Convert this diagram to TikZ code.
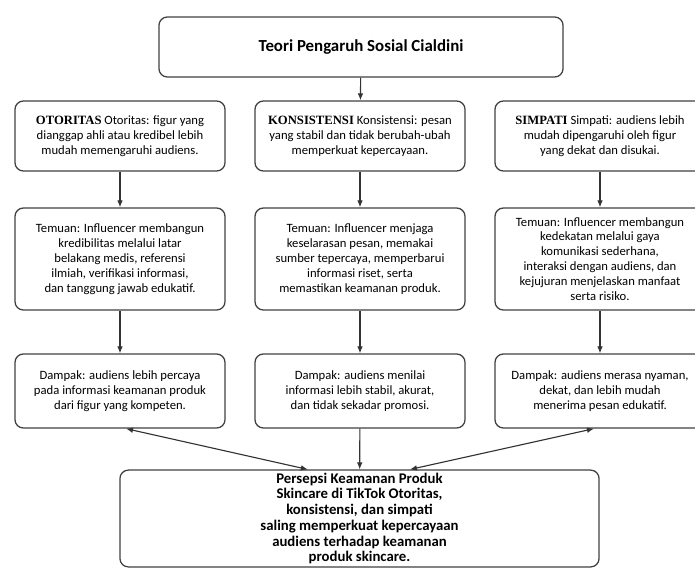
\documentclass[tikz,border=0pt]{standalone}
\usepackage{fontspec}
\setmainfont{Carlito}
\newfontfamily\capsfont{Liberation Serif}
\usetikzlibrary{positioning,arrows.meta}

\tikzset{
	card/.style={draw=black!75, line width=0.9pt, rounded corners=6pt, align=center, inner sep=1pt,
		minimum width=5.25cm, font=\fontsize{9}{10.6}\selectfont},
	headcard/.style={card, minimum width=10.1cm, minimum height=1.5cm, font=\fontsize{12}{14}\selectfont\bfseries},
	resultcard/.style={card, minimum width=11.975cm, minimum height=2.42cm, font=\fontsize{10.5}{11.2}\selectfont\bfseries},
	flow/.style={draw=black!80, line width=0.8pt, -{Latex[length=5pt,width=4pt]}},
	twoway/.style={flow, {Latex[length=5pt,width=4pt]}-{Latex[length=5pt,width=4pt]}}
}
\newcommand{\key}[1]{{\capsfont\bfseries #1}}

\begin{document}
\begin{tikzpicture}[x=0.025cm,y=-0.025cm]
\useasboundingbox (0,0) rectangle (695,568); % page frame

\node[headcard] (teori) at (361,47) {Teori Pengaruh Sosial Cialdini}; % title

% row 1: principles
\node[card, minimum height=1.75cm] (otoritas) at (120,136) {\key{OTORITAS} Otoritas: figur yang\\dianggap ahli atau kredibel lebih\\mudah memengaruhi audiens.};
\node[card, minimum height=1.75cm] (konsistensi) at (360,136) {\key{KONSISTENSI} Konsistensi: pesan\\yang stabil dan tidak berubah-ubah\\memperkuat kepercayaan.};
\node[card, minimum height=1.75cm] (simpati) at (600,136) {\key{SIMPATI} Simpati: audiens lebih\\mudah dipengaruhi oleh figur\\yang dekat dan disukai.};

% row 2: findings
\node[card, minimum height=2.55cm] (temuanO) at (120,259) {Temuan: Influencer membangun\\kredibilitas melalui latar\\belakang medis, referensi\\ilmiah, verifikasi informasi,\\dan tanggung jawab edukatif.};
\node[card, minimum height=2.55cm] (temuanK) at (360,259) {Temuan: Influencer menjaga\\keselarasan pesan, memakai\\sumber tepercaya, memperbarui\\informasi riset, serta\\memastikan keamanan produk.};
\node[card, minimum height=2.55cm] (temuanS) at (600,259) {Temuan: Influencer membangun\\kedekatan melalui gaya\\komunikasi sederhana,\\interaksi dengan audiens, dan\\kejujuran menjelaskan manfaat\\serta risiko.};

% row 3: impact
\node[card, minimum height=1.85cm] (dampakO) at (120,391) {Dampak: audiens lebih percaya\\pada informasi keamanan produk\\dari figur yang kompeten.};
\node[card, minimum height=1.85cm] (dampakK) at (360,391) {Dampak: audiens menilai\\informasi lebih stabil, akurat,\\dan tidak sekadar promosi.};
\node[card, minimum height=1.85cm] (dampakS) at (600,391) {Dampak: audiens merasa nyaman,\\dekat, dan lebih mudah\\menerima pesan edukatif.};

\node[resultcard] (persepsi) at (359.5,518.5) {Persepsi Keamanan Produk\\Skincare di TikTok Otoritas,\\konsistensi, dan simpati\\saling memperkuat kepercayaan\\audiens terhadap keamanan\\produk skincare.};

% connectors
\draw[flow] (teori) -- (konsistensi);
\draw[flow] (otoritas) -- (temuanO);
\draw[flow] (konsistensi) -- (temuanK);
\draw[flow] (simpati) -- (temuanS);
\foreach \col in {O,K,S}{
	\draw[flow] (temuan\col.south) -- (dampak\col.north);
}
\draw[twoway] ([xshift=0.15cm]dampakO.south) -- ([xshift=-1.29cm]persepsi.north);
\draw[flow] (dampakK) -- (persepsi);
\draw[twoway] ([xshift=-0.15cm]dampakS.south) -- ([xshift=1.26cm]persepsi.north);
\end{tikzpicture}
\end{document}
